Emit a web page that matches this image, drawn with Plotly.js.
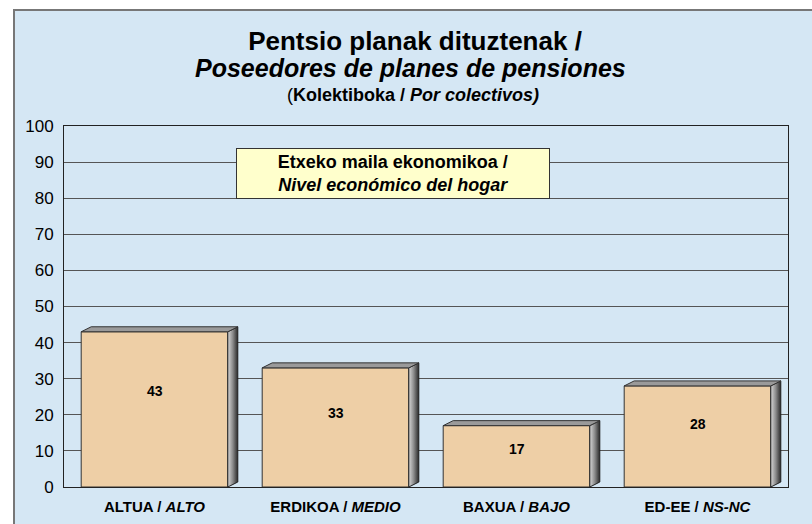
<!DOCTYPE html>
<html>
<head>
<meta charset="utf-8">
<script src="https://cdn.plot.ly/plotly-3.0.1.min.js"></script>
<style>html,body{margin:0;padding:0;background:#fff;}#chart{width:812px;height:524px;}</style>
</head>
<body>
<div id="chart"></div>
<script>
// ---- data ----
const categoriesEu = ["ALTUA", "ERDIKOA", "BAXUA", "ED-EE"];
const categoriesEs = ["ALTO", "MEDIO", "BAJO", "NS-NC"];
const values = [43, 33, 17, 28];
const yTicks = [0, 10, 20, 30, 40, 50, 60, 70, 80, 90, 100];

const titleLine1 = "Pentsio planak dituztenak /";
const titleLine2 = "Poseedores de planes de pensiones";
const subEu = "Kolektiboka /";
const subEs = "Por colectivos)";
const legendEu = "Etxeko maila ekonomikoa /";
const legendEs = "Nivel económico del hogar";

// ---- layout constants (pixels) ----
const W = 812, H = 524;
const M = {l: 64, r: 24, t: 126, b: 37};
const plotW = W - M.l - M.r, plotH = H - M.t - M.b;
const barW = 0.81;
const depthX = 10 / (plotW / categoriesEu.length);   // 10 px in category units
const depthY = 5 / (plotH / 100);                    // 5 px in value units
const FONT = "Liberation Sans, Arial, sans-serif";

const xIdx = categoriesEu.map((_, i) => i);
const tickText = categoriesEu.map((c, i) => "<b>" + c + " / <i>" + categoriesEs[i] + "</i></b>");

const traces = [];
// side and top faces (3D effect), derived from values
values.forEach((v, i) => {
  const xl = i - barW / 2, xr = i + barW / 2;
  traces.push({
    type: "scatter", mode: "lines", fill: "toself",
    x: [xr, xr + depthX, xr + depthX, xr, xr],
    y: [0, depthY, v + depthY, v, 0],
    line: {color: "#222", width: 1},
    fillgradient: {type: "horizontal", colorscale: [[0, "#d8d8d8"], [0.5, "#8a8a8a"], [1, "#2a2a2a"]]},
    hoverinfo: "skip", showlegend: false
  });
  traces.push({
    type: "scatter", mode: "lines", fill: "toself",
    x: [xl, xl + depthX, xr + depthX, xr, xl],
    y: [v, v + depthY, v + depthY, v, v],
    line: {color: "#333", width: 1},
    fillcolor: "#9a9a9a",
    hoverinfo: "skip", showlegend: false
  });
});
// front faces
traces.push({
  type: "bar", x: xIdx, y: values, width: barW,
  marker: {color: "#EECFA6", line: {color: "#333", width: 1}},
  hoverinfo: "skip", showlegend: false
});

const annotations = values.map((v, i) => ({
  x: i, y: v * 0.62, xref: "x", yref: "y", showarrow: false,
  text: "<b>" + v + "</b>",
  font: {family: FONT, size: 14, color: "#000"}
}));
annotations.push({
  xref: "paper", yref: "paper", x: (393 - M.l) / plotW, y: 1 - (173.5 - M.t) / plotH,
  xanchor: "center", yanchor: "middle", showarrow: false,
  text: "<b>" + legendEu + "<br><i>" + legendEs + "</i></b>",
  font: {family: FONT, size: 18, color: "#000"},
  bgcolor: "#FFFFCC", bordercolor: "#333", borderwidth: 1, borderpad: 1,
  width: 310, height: 47
});
annotations.push({
  xref: "paper", yref: "paper", x: (410 - M.l) / plotW, y: 1 + (M.t - 68) / plotH,
  xanchor: "center", yanchor: "middle", showarrow: false,
  text: "<b><i>" + titleLine2 + "</i></b>",
  font: {family: FONT, size: 25, color: "#000"}
});
annotations.push({
  xref: "paper", yref: "paper", x: (413 - M.l) / plotW, y: 1 + (M.t - 95) / plotH,
  xanchor: "center", yanchor: "middle", showarrow: false,
  text: "(<b>" + subEu + " <i>" + subEs + "</i></b>",
  font: {family: FONT, size: 18, color: "#000"}
});

const layout = {
  width: W, height: H,
  margin: M,
  paper_bgcolor: "#ffffff",
  plot_bgcolor: "#ffffff",
  font: {family: FONT, color: "#000"},
  title: {
    text: "<b>" + titleLine1 + "</b>",
    font: {family: FONT, size: 26, color: "#000"},
    x: 415 / W, xanchor: "center", xref: "container",
    y: 1 - 41 / H, yanchor: "middle", yref: "container"
  },
  xaxis: {
    range: [-0.5, 3.5], tickvals: xIdx, ticktext: tickText,
    showgrid: false, zeroline: false, showline: true, mirror: true,
    linecolor: "#222", linewidth: 1, ticks: "",
    tickfont: {size: 15, color: "#000"}, ticklabelstandoff: 6, fixedrange: true
  },
  yaxis: {
    range: [0, 100], tickvals: yTicks, ticks: "",
    showgrid: true, gridcolor: "#555", gridwidth: 1,
    zeroline: false, showline: true, mirror: true, linecolor: "#222", linewidth: 1,
    tickfont: {size: 17, color: "#000"}, ticklabelstandoff: 6, fixedrange: true
  },
  shapes: [{
    type: "rect", xref: "paper", yref: "paper", layer: "below",
    x0: (14 - M.l) / plotW, x1: 1.2, y0: -0.3, y1: 1 + (M.t - 10) / plotH,
    fillcolor: "#D5E7F4", line: {color: "#777", width: 2}
  }],
  annotations: annotations,
  showlegend: false, bargap: 0
};

Plotly.newPlot("chart", traces, layout, {displayModeBar: false, staticPlot: true});
</script>
</body>
</html>
